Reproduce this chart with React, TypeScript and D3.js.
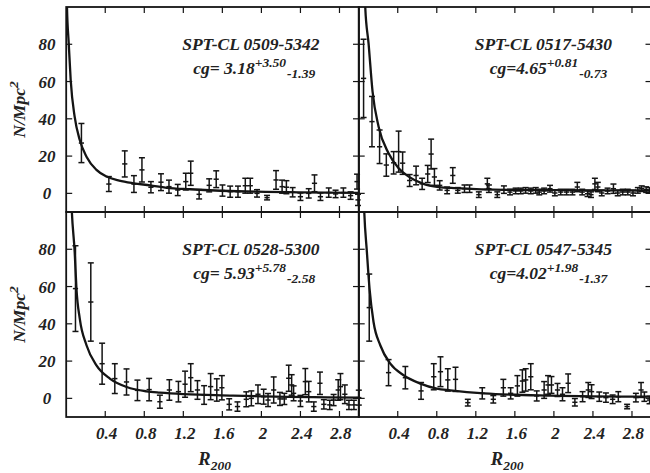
import React from "react";
import * as d3 from "d3";

const WIDTH = 650;
const HEIGHT = 473;

// Axis ticks
const xTicks = [0.4, 0.8, 1.2, 1.6, 2, 2.4, 2.8];
const xTickLabels = ["0.4", "0.8", "1.2", "1.6", "2", "2.4", "2.8"];
const yTicks = [0, 20, 40, 60, 80];
const yTickLabels = ["0", "20", "40", "60", "80"];

// Cluster names and fitted concentration (value, upper, lower)
const clusterNames = ["SPT-CL 0509-5342", "SPT-CL 0517-5430", "SPT-CL 0528-5300", "SPT-CL 0547-5345"];
const cgPrefix = ["cg= ", "cg=", "cg= ", "cg="];
const cgValues = ["3.18", "4.65", "5.93", "4.02"];
const cgUpper = ["+3.50", "+0.81", "+5.78", "+1.98"];
const cgLower = ["-1.39", "-0.73", "-2.58", "-1.37"];

// Surface density profiles: [R/R200, N/Mpc^2, error]
const pts0509: [number, number, number][] = [
  [0.156, 27, 10.5], [0.437, 5, 4], [0.6, 15.8, 7], [0.694, 5, 4.5], [0.776, 12.6, 6.5],
  [0.868, 3.3, 3], [0.971, 6, 4.5], [1.053, 3.6, 3.5], [1.143, 1.8, 3], [1.225, 6.3, 4.5],
  [1.276, 10.8, 6.5], [1.362, -0.5, 2.5], [1.465, 4.3, 3.5], [1.537, 7.6, 4.5], [1.601, 1.5, 3],
  [1.68, 0.9, 3], [1.76, 0.9, 3], [1.835, 4.1, 4], [1.886, 4.1, 4], [1.955, 0, 2],
  [2.058, -2.3, 1.2], [2.15, 7.2, 5], [2.212, 3.6, 3.5], [2.256, 3.3, 3.5], [2.32, 0.6, 2.5],
  [2.4, -1.8, 2], [2.485, 0, 2.5], [2.544, 5.4, 4.5], [2.605, -1.8, 2], [2.69, 0.4, 2.5],
  [2.76, -0.3, 2], [2.84, 0.4, 2.5], [2.914, -1.2, 2], [2.98, 6.3, 4], [2.99, -3.5, 3],
];

const pts0517: [number, number, number][] = [
  [0.05, 61.7, 21], [0.136, 38.5, 13.5], [0.214, 25, 9], [0.283, 15.2, 6], [0.358, 16.4, 6],
  [0.409, 22.4, 11], [0.45, 16.2, 6], [0.522, 6.9, 3.2], [0.588, 9.6, 5], [0.65, 5.1, 3],
  [0.707, 10.4, 4.6], [0.742, 21.1, 8], [0.776, 8.8, 4.5], [0.83, 4.3, 2.5], [0.906, 1.6, 1.8],
  [0.964, 9.6, 4.2], [1.015, 1.6, 1.5], [1.084, 2.5, 2], [1.136, 2.5, 2], [1.231, -0.7, 1.5],
  [1.318, 5.1, 3], [1.334, 2.5, 2], [1.42, -0.7, 1.5], [1.488, 2, 2], [1.55, 0.7, 1.5],
  [1.608, 1.3, 1.5], [1.66, 1.3, 1.5], [1.71, 1.6, 1.5], [1.763, 1.3, 1.5], [1.814, 1.6, 1.5],
  [1.85, 0.7, 1.5], [1.9, 1.3, 1.5], [1.96, 2.5, 1.8], [2.01, 0.2, 1.5], [2.07, 0.7, 1.5],
  [2.13, 0.7, 1.5], [2.19, 0.7, 1.5], [2.24, 3.4, 2.5], [2.29, 0.7, 1.5], [2.345, -0.2, 1.5],
  [2.38, -0.7, 1.5], [2.42, 5.1, 3], [2.45, 3.4, 2.5], [2.49, 0.2, 1.5], [2.55, 1.3, 1.5],
  [2.61, 2.5, 2.5], [2.654, 0.2, 1.5], [2.705, 0.7, 1.5], [2.757, 0.7, 1.5], [2.81, 0.2, 1.5],
  [2.86, 1.6, 1.5], [2.9, 2.5, 1.5], [2.945, 2, 1.5], [2.98, 1.6, 1.5],
];

const pts0528: [number, number, number][] = [
  [0.095, 58.9, 23], [0.252, 51.7, 21], [0.368, 18.6, 11], [0.498, 10.6, 8], [0.618, 8.8, 7],
  [0.73, 4.3, 5.5], [0.85, 4.7, 6], [0.96, -1.8, 3.5], [1.057, 4.5, 5.5], [1.15, 3.6, 5.5],
  [1.218, 7.6, 7], [1.276, 11.1, 7.5], [1.345, 4.5, 5], [1.413, 1.8, 5], [1.48, 6.3, 7],
  [1.543, 4.5, 6], [1.595, 5.7, 6.5], [1.67, -3.2, 3], [1.755, -4.4, 2.5], [1.845, -0.5, 4],
  [1.897, 0, 4], [1.965, 2.2, 5], [2.023, 0.9, 4], [2.068, -0.9, 3.5], [2.126, 4.5, 7],
  [2.19, -0.3, 3.5], [2.235, -0.3, 3], [2.28, 10.8, 7], [2.31, 7.2, 5.5], [2.33, 2.7, 4],
  [2.4, -1.4, 3], [2.45, 9, 7], [2.485, 3.6, 5.5], [2.537, -4.4, 2.5], [2.6, 8.1, 6],
  [2.64, -3.2, 2.5], [2.7, -3.5, 2.5], [2.74, -0.9, 3], [2.787, 4.5, 5.5], [2.81, 6.3, 7],
  [2.855, 2.2, 5], [2.897, -3.5, 2.5], [2.948, -3.5, 2.5], [2.998, 0.4, 4],
];

const pts0547: [number, number, number][] = [
  [0.108, 48.7, 18], [0.306, 13.8, 7], [0.478, 11.1, 6], [0.639, 4, 4.5], [0.769, 11.6, 7],
  [0.838, 14.3, 8], [0.913, 9.9, 6], [0.992, 10.2, 6.5], [1.118, -2.3, 1.8], [1.266, 2.7, 3],
  [1.379, -0.5, 2], [1.482, 5.7, 4.5], [1.557, 2.7, 3], [1.626, 6.7, 5.5], [1.677, 9.3, 6],
  [1.711, 9.9, 6], [1.763, 11.6, 7], [1.824, 1.3, 2.7], [1.9, 4.5, 4.5], [1.94, 7.2, 5],
  [1.975, 7.2, 4.5], [2.037, 4.5, 3.5], [2.088, 2.2, 3.5], [2.146, 8.1, 5], [2.215, -2.1, 2],
  [2.294, 0.9, 2.7], [2.352, 4.5, 4], [2.386, 3.6, 3.7], [2.465, 0.9, 2.5], [2.533, 0.4, 2.5],
  [2.602, -0.5, 2.3], [2.66, 0.9, 2.7], [2.75, -4.4, 1.2], [2.84, 0.4, 2.3], [2.893, 4.5, 4],
  [2.927, 0.9, 2.5], [2.98, -0.9, 2],
];

// Fitted profiles: [R/R200, N/Mpc^2]
const fit0509: [number, number][] = [
  [0.004, 112], [0.008, 100], [0.026, 80.5], [0.046, 60.8], [0.087, 41], [0.139, 28.6],
  [0.208, 19.7], [0.31, 12.6], [0.413, 9], [0.543, 6.8], [0.69, 5.4], [0.86, 4.3],
  [1.03, 3.0], [1.27, 2.2], [1.95, 0.9], [3.0, 0.3],
];
const fit0517: [number, number][] = [
  [0.06, 110], [0.067, 100], [0.101, 80.5], [0.142, 54.6], [0.204, 35.8], [0.306, 21.5],
  [0.409, 13.5], [0.512, 9], [0.65, 5.4], [0.82, 3.4], [1.0, 2.8], [1.5, 1.9], [3.0, 1.5],
];
const fit0528: [number, number][] = [
  [0.05, 110], [0.058, 100], [0.087, 78.5], [0.105, 58.9], [0.139, 42.8], [0.208, 28.5],
  [0.31, 17.7], [0.447, 10.6], [0.62, 6.1], [0.82, 3.8], [0.96, 3.1], [1.71, 1.5], [3.0, 0.4],
];
const fit0547: [number, number][] = [
  [0.05, 110], [0.057, 100], [0.084, 78.5], [0.111, 58.9], [0.152, 41], [0.221, 28.5],
  [0.324, 18.6], [0.46, 12.4], [0.632, 7.9], [0.8, 5.2], [0.94, 4.3], [1.283, 2.7],
  [1.97, 1.5], [3.0, 0.9],
];

const FONT = "'Liberation Serif', 'Times New Roman', serif";
const INK = "#141414";
const TEXT = "#222";

const PANEL_W = 292.8;
const PANEL_H = 205;
const COL_X = [66.2, 358.7];
const ROW_Y = [7, 212];

type PanelProps = {
  idx: number;
  x0: number;
  y0: number;
  pts: [number, number, number][];
  fit: [number, number][];
  yLabels: boolean;
  xLabels: boolean;
};

function Panel({ idx, x0, y0, pts, fit, yLabels, xLabels }: PanelProps) {
  const x = d3.scaleLinear().domain([0, 3]).range([x0, x0 + PANEL_W]);
  const y = d3.scaleLinear().domain([-10, 100]).range([y0 + PANEL_H, y0]);
  const line = d3
    .line<[number, number]>()
    .x((d) => x(d[0]))
    .y((d) => y(d[1]))
    .curve(d3.curveMonotoneX);
  const clipId = `clip-${idx}`;
  const tl = 6;
  const cap = 3;
  const mk = 2.6;
  const right = x0 + PANEL_W;
  const bottom = y0 + PANEL_H;

  return (
    <g>
      <defs>
        <clipPath id={clipId}>
          <rect x={x0} y={y0} width={PANEL_W} height={PANEL_H} />
        </clipPath>
      </defs>

      {/* ticks on all four sides, pointing inward */}
      <g stroke={INK} strokeWidth={1.2}>
        {xTicks.map((t) => (
          <g key={`xt${t}`}>
            <line x1={x(t)} x2={x(t)} y1={y0} y2={y0 + tl} />
            <line x1={x(t)} x2={x(t)} y1={bottom} y2={bottom - tl} />
          </g>
        ))}
        {yTicks.map((t) => (
          <g key={`yt${t}`}>
            <line x1={x0} x2={x0 + tl} y1={y(t)} y2={y(t)} />
            <line x1={right} x2={right - tl} y1={y(t)} y2={y(t)} />
          </g>
        ))}
      </g>

      {/* error bars */}
      <g stroke={INK} strokeWidth={1.5} fill="none">
        {pts.map(([r, n, e], i) => {
          const px = x(r);
          const yt = y(n + e);
          const yb = y(n - e);
          const py = y(n);
          return (
            <g key={i}>
              <line x1={px} x2={px} y1={yt} y2={yb} />
              <line x1={px - cap} x2={px + cap} y1={yt} y2={yt} />
              <line x1={px - cap} x2={px + cap} y1={yb} y2={yb} />
              <line x1={px - mk} x2={px + mk} y1={py} y2={py} />
            </g>
          );
        })}
      </g>

      {/* fitted profile */}
      <path
        d={line(fit) || ""}
        fill="none"
        stroke={INK}
        strokeWidth={2.3}
        clipPath={`url(#${clipId})`}
      />

      {/* frame */}
      <rect
        x={x0}
        y={y0}
        width={PANEL_W}
        height={PANEL_H}
        fill="none"
        stroke={INK}
        strokeWidth={1.8}
      />

      {/* cluster label */}
      <g fontFamily={FONT} fontWeight="bold" fontStyle="italic" fill={TEXT}>
        <text x={x0 + 116} y={y0 + 43} fontSize={17.5}>
          {clusterNames[idx]}
        </text>
        <text x={x0 + (cgPrefix[idx] === "cg= " ? 127 : 131)} y={y0 + 67} fontSize={17.5}>
          {cgPrefix[idx] + cgValues[idx]}
          <tspan fontSize={13.5} dy={-7}>
            {cgUpper[idx]}
          </tspan>
          <tspan fontSize={13.5} dy={11} dx={1}>
            {cgLower[idx]}
          </tspan>
        </text>
      </g>

      {yLabels && (
        <g fontFamily={FONT} fontWeight="bold" fontStyle="italic" fill={TEXT} fontSize={17}>
          {yTicks.map((t, i) => (
            <text key={`yl${t}`} x={47} y={y(t) + 6} textAnchor="middle">
              {yTickLabels[i]}
            </text>
          ))}
          <text
            transform={`translate(25, ${y0 + PANEL_H / 2}) rotate(-90)`}
            textAnchor="middle"
            fontSize={17.5}
          >
            N/Mpc
            <tspan fontSize={13.5} dy={-7}>
              2
            </tspan>
          </text>
        </g>
      )}

      {xLabels && (
        <g fontFamily={FONT} fontWeight="bold" fontStyle="italic" fill={TEXT}>
          {xTicks.map((t, i) => (
            <text key={`xl${t}`} x={x(t) + 1.5} y={439} textAnchor="middle" fontSize={17}>
              {xTickLabels[i]}
            </text>
          ))}
          <text x={x(1.5) + 2} y={465} textAnchor="middle" fontSize={18.5}>
            R
            <tspan fontSize={13.5} dy={5}>
              200
            </tspan>
          </text>
        </g>
      )}
    </g>
  );
}

const panels = [
  { pts: pts0509, fit: fit0509, col: 0, row: 0 },
  { pts: pts0517, fit: fit0517, col: 1, row: 0 },
  { pts: pts0528, fit: fit0528, col: 0, row: 1 },
  { pts: pts0547, fit: fit0547, col: 1, row: 1 },
];

export default function App() {
  return (
    <svg
      width={WIDTH}
      height={HEIGHT}
      viewBox={`0 0 ${WIDTH} ${HEIGHT}`}
      style={{ position: "absolute", left: 0, top: 0, background: "#fff" }}
    >
      <rect width={WIDTH} height={HEIGHT} fill="#fff" />
      {panels.map((p, i) => (
        <Panel
          key={i}
          idx={i}
          x0={COL_X[p.col]}
          y0={ROW_Y[p.row]}
          pts={p.pts}
          fit={p.fit}
          yLabels={p.col === 0}
          xLabels={p.row === 1}
        />
      ))}
    </svg>
  );
}
